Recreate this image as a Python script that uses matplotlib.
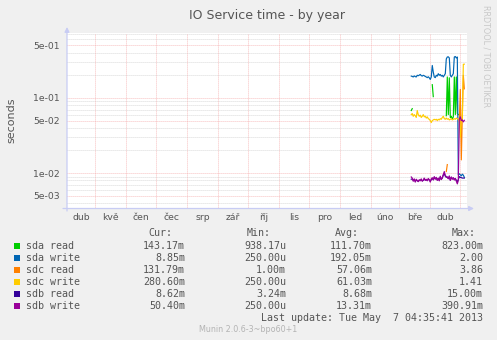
"""IO service time by year - Munin / RRDtool style disk latency graph."""

import datetime as dt
import numpy as np
import matplotlib
matplotlib.use("Agg")
import matplotlib.pyplot as plt
import matplotlib.dates as mdates
from matplotlib.patches import Rectangle

nan = np.nan

W, H = 497, 340

# Time axis (one pixel per day on the yearly graph)
X_START = dt.datetime(2012, 4, 3, 8)
X_END = dt.datetime(2013, 5, 7, 16)
FIRST_DAY = dt.datetime(2013, 3, 13)

MONTH_STARTS = [dt.datetime(2012 + (3 + i) // 12, (3 + i) % 12 + 1, 1) for i in range(14)]
MONTH_LABELS = ["dub", "kvě", "čen", "čec", "srp", "zář", "říj",
                "lis", "pro", "led", "úno", "bře", "dub"]

Y_MIN, Y_MAX = 10 ** -2.47, 10 ** -0.137
Y_TICKS = [5e-3, 1e-2, 5e-2, 1e-1, 5e-1]

# Daily values from 2013-03-13 onwards (seconds)
sda_read = [0.068, 0.072, nan, nan, nan, nan, nan, nan, nan, nan,
            nan, nan, nan, nan, nan, nan, nan, nan, nan, nan,
            nan, 0.150, 0.104, nan, nan, nan, nan, nan, nan, nan,
            nan, nan, nan, nan, nan, 0.058, 0.190, 0.060, 0.185, 0.055,
            0.057, 0.052, 0.056, 0.190, 0.060, 0.190, 0.062, 0.060, nan, nan,
            nan, nan, nan, nan, nan]
sda_write = [0.195, 0.193, 0.190, 0.196, 0.192, 0.190, 0.200, 0.197, 0.201, 0.205,
             0.198, 0.195, 0.200, 0.197, 0.193, 0.190, 0.186, 0.191, 0.185, 0.176,
             0.190, 0.270, 0.220, 0.190, 0.186, 0.200, 0.195, 0.210, 0.200, 0.205,
             0.195, 0.200, 0.190, 0.200, 0.210, 0.330, 0.350, 0.352, 0.340, 0.200,
             0.190, 0.200, 0.210, 0.350, 0.355, 0.340, 0.350, 0.0095, 0.0098, 0.0095,
             0.0092, 0.0097, 0.0094, 0.0088, nan]
sdc_read = [nan, nan, nan, nan, nan, nan, nan, nan, nan, nan,
            nan, nan, nan, nan, nan, nan, nan, nan, nan, nan,
            nan, nan, nan, nan, nan, nan, nan, nan, nan, nan,
            nan, nan, nan, nan, nan, 0.0105, 0.013, nan, nan, nan,
            nan, nan, nan, nan, nan, nan, nan, nan, 0.050, 0.130,
            0.015, 0.060, 0.200, 0.132, nan]
sdc_write = [0.060, 0.062, 0.057, 0.060, 0.058, 0.055, 0.068, 0.060, 0.057, 0.059,
             0.055, 0.057, 0.060, 0.056, 0.057, 0.054, 0.056, 0.053, 0.052, 0.050,
             0.047, 0.050, 0.051, 0.052, 0.051, 0.052, 0.050, 0.052, 0.051, 0.053,
             0.052, 0.055, 0.057, 0.053, 0.052, 0.054, 0.052, 0.053, 0.051, 0.052,
             0.053, 0.051, 0.052, 0.053, 0.052, 0.054, 0.053, 0.052, 0.050, 0.030,
             0.050, 0.052, 0.280, 0.281, nan]
sdb_read = [0.0083, 0.0084, 0.0080, 0.0082, 0.0078, 0.0081, 0.0079, 0.0078, 0.0080, 0.0080,
            0.0082, 0.0079, 0.0080, 0.0084, 0.0081, 0.0082, 0.0080, 0.0083, 0.0081, 0.0078,
            0.0082, 0.0085, 0.0082, 0.0088, 0.0084, 0.0086, 0.0081, 0.0085, 0.0080, 0.0089,
            0.0083, 0.0086, 0.0094, 0.0099, 0.0091, 0.0088, 0.0089, 0.0085, 0.0090, 0.0081,
            0.0088, 0.0084, 0.0086, 0.0082, 0.0085, 0.0080, 0.0077, 0.0082, 0.0090, 0.0088,
            0.0087, 0.0086, 0.0086, 0.0086, nan]
sdb_write = [0.0089, 0.0086, 0.0078, 0.0084, 0.0076, 0.0083, 0.0080, 0.0077, 0.0082, 0.0079,
             0.0084, 0.0078, 0.0081, 0.0086, 0.0080, 0.0083, 0.0079, 0.0085, 0.0082, 0.0076,
             0.0084, 0.0087, 0.0081, 0.0090, 0.0083, 0.0088, 0.0080, 0.0086, 0.0079, 0.0091,
             0.0082, 0.0087, 0.0096, 0.0105, 0.0093, 0.0090, 0.0088, 0.0084, 0.0092, 0.0080,
             0.0089, 0.0083, 0.0087, 0.0081, 0.0085, 0.0078, 0.0072, 0.0080, 0.0520, 0.0560,
             0.0500, 0.0510, 0.0480, 0.0504, nan]

LABELS = ["sda read", "sda write", "sdc read", "sdc write", "sdb read", "sdb write"]
COLORS = ["#00CC00", "#0066B3", "#FF8000", "#FFCC00", "#330099", "#990099"]
SERIES = [sda_read, sda_write, sdc_read, sdc_write, sdb_read, sdb_write]

cur_vals = ["143.17m", "8.85m", "131.79m", "280.60m", "8.62m", "50.40m"]
min_vals = ["938.17u", "250.00u", "1.00m", "250.00u", "3.24m", "250.00u"]
avg_vals = ["111.70m", "192.05m", "57.06m", "61.03m", "8.68m", "13.31m"]
max_vals = ["823.00m", "2.00", "3.86", "1.41", "15.00m", "390.91m"]

TEXT = "#555555"
MONO = "DejaVu Sans Mono"
MINOR_GRID = "#CDCDCD"
MAJOR_GRID = "#F5AAAA"
DOTS = (0, (1, 1.4))


def fx(x):
    return x / W


def fy(y):
    return 1 - y / H


fig = plt.figure(figsize=(W / 100, H / 100), dpi=100, facecolor="#F0F0F0")
ax = fig.add_axes([fx(67), fy(208.5), fx(467) - fx(67), fy(33) - fy(208.5)])
ax.set_facecolor("white")
for sp in ax.spines.values():
    sp.set_visible(False)

# ----------------------------------------------------------------
# Series
# ----------------------------------------------------------------
days = [FIRST_DAY + dt.timedelta(days=i) for i in range(len(sda_write))]
for vals, color in zip(SERIES, COLORS):
    ax.plot(days, vals, color=color, linewidth=0.85, zorder=3)

ax.set_yscale("log")
ax.set_ylim(Y_MIN, Y_MAX)
ax.set_xlim(X_START, X_END)

# ----------------------------------------------------------------
# Grid and ticks
# ----------------------------------------------------------------
minor_y = [m * 10.0 ** e for e in (-3, -2, -1) for m in (2, 3, 4, 6, 7, 8, 9)]
minor_y = [v for v in minor_y if Y_MIN < v < Y_MAX]
for v in minor_y:
    ax.axhline(v, color=MINOR_GRID, linewidth=0.6, linestyle=DOTS, zorder=1)
for v in Y_TICKS:
    ax.axhline(v, color=MAJOR_GRID, linewidth=0.6, linestyle=DOTS, zorder=2)
for m in MONTH_STARTS:
    if X_START < m < X_END:
        ax.axvline(m, color=MAJOR_GRID, linewidth=0.6, linestyle=DOTS, zorder=2)

ax.set_yticks(Y_TICKS)
ax.set_yticklabels([f"{v:.0e}" for v in Y_TICKS])
ax.yaxis.set_minor_locator(matplotlib.ticker.NullLocator())

mid = [max(m, X_START) + (min(n, X_END) - max(m, X_START)) / 2
       for m, n in zip(MONTH_STARTS[:-1], MONTH_STARTS[1:])]
ax.set_xticks(mdates.date2num(mid))
ax.set_xticklabels(MONTH_LABELS)
ax.tick_params(axis="y", length=0, pad=5, labelsize=6.7, labelcolor=TEXT)
ax.tick_params(axis="x", length=0, pad=3, labelsize=6.7, labelcolor=TEXT)

# Axis arrows (in figure pixels, origin bottom-left)
arrow = dict(arrowstyle="-|>", color="#C8CCF4", linewidth=0.9,
             mutation_scale=7, shrinkA=0, shrinkB=0)
ax.annotate("", xy=(67, H - 27), xytext=(67, H - 211), xycoords="figure pixels",
            textcoords="figure pixels", arrowprops=arrow, annotation_clip=False)
ax.annotate("", xy=(474, H - 208.5), xytext=(63, H - 208.5), xycoords="figure pixels",
            textcoords="figure pixels", arrowprops=arrow, annotation_clip=False)

# ----------------------------------------------------------------
# Titles and side texts
# ----------------------------------------------------------------
fig.text(fx(267), fy(15), "IO Service time - by year", ha="center", va="center",
         fontsize=9, color=TEXT)
fig.text(fx(11), fy(120), "seconds", rotation=90, ha="center", va="center",
         fontsize=8, color=TEXT)
fig.text(fx(486), fy(56), "RRDTOOL / TOBI OETIKER", rotation=270, ha="center",
         va="center", fontsize=5.8, color="#C8C8C8")

# ----------------------------------------------------------------
# Legend table
# ----------------------------------------------------------------
fig.text(fx(172), fy(233), "Cur:", ha="right", va="center", family=MONO,
         fontsize=7.2, color=TEXT)
fig.text(fx(247), fy(233), "Min:", ha="left", va="center", family=MONO,
         fontsize=7.2, color=TEXT)
fig.text(fx(335), fy(233), "Avg:", ha="left", va="center", family=MONO,
         fontsize=7.2, color=TEXT)
fig.text(fx(452), fy(233), "Max:", ha="left", va="center", family=MONO,
         fontsize=7.2, color=TEXT)

for i, (label, color) in enumerate(zip(LABELS, COLORS)):
    y = 245.7 + i * 12
    fig.patches.append(Rectangle((fx(14), fy(y + 3)), fx(6), 6 / H,
                                 transform=fig.transFigure, facecolor=color,
                                 edgecolor="none"))
    fig.text(fx(26.5), fy(y), label, ha="left", va="center", family=MONO,
             fontsize=7.2, color=TEXT)
    for col, right in ((cur_vals, 185), (min_vals, 286), (avg_vals, 372), (max_vals, 483)):
        fig.text(fx(right), fy(y), col[i], ha="right", va="center", family=MONO,
                 fontsize=7.2, color=TEXT)

fig.text(fx(483), fy(317.7), "Last update: Tue May  7 04:35:41 2013", ha="right",
         va="center", family=MONO, fontsize=7.2, color=TEXT)
fig.text(fx(248), fy(329.5), "Munin 2.0.6-3~bpo60+1", ha="center", va="center",
         fontsize=5.8, color="#B4B4B4")

fig.savefig("out.png", dpi=100, facecolor=fig.get_facecolor())
